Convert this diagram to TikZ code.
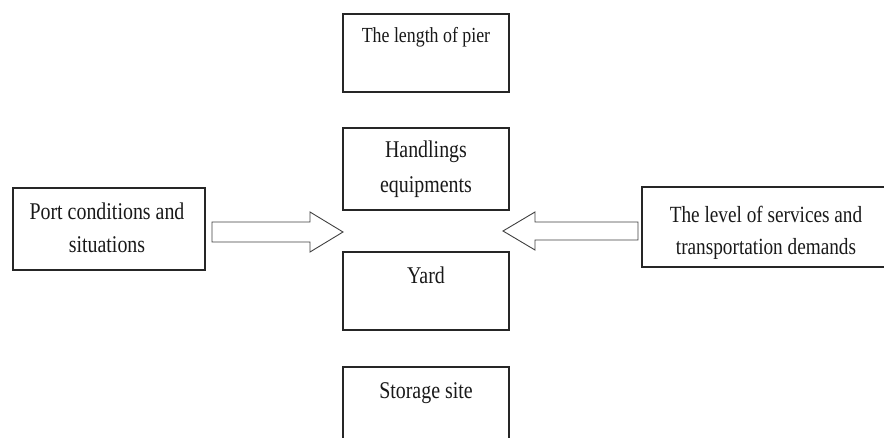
\documentclass[tikz,border=0pt]{standalone}
\usepackage{fontspec}
\setmainfont{Liberation Serif}[FakeStretch=0.83]
\begin{document}
\begin{tikzpicture}[x=1pt,y=-1pt,
  box/.style={draw=black!85, line width=1.1pt, fill=none},
  lbl/.style={anchor=base, inner sep=0pt, font=\fontsize{24}{33}\selectfont, text=black!90},
  fatarrow/.style={draw=black!75, line width=0.9pt, fill=white, line join=miter}]
\useasboundingbox (0,0) rectangle (884,438);
\clip (0,0) rectangle (884,438);
% central column boxes
\draw[box] (343,14) rectangle (509,92);
\node[lbl, font=\fontsize{21.5}{30}\selectfont] (pier) at (426,43) {The length of pier};
\draw[box] (343,128) rectangle (509,210);
\node[lbl] (hand1) at (426,158) {Handlings};
\node[lbl] (hand2) at (426,193) {equipments};
\draw[box] (343,252) rectangle (509,330);
\node[lbl] (yard) at (426,284) {Yard};
\draw[box] (343,367) rectangle (509,460);
\node[lbl] (stor) at (426,399) {Storage site};
% left box
\draw[box] (13,188) rectangle (205,270);
\node[lbl] (port1) at (107,220) {Port conditions and};
\node[lbl] (port2) at (107,253) {situations};
% right box
\draw[box] (642,187) rectangle (892,267);
\node[lbl, font=\fontsize{23.2}{32}\selectfont] (lev1) at (766,223) {The level of services and};
\node[lbl, font=\fontsize{23.2}{32}\selectfont] (lev2) at (766,255) {transportation demands};
% left block arrow
\coordinate (la1) at (212,222);
\coordinate (la2) at (310,222);
\coordinate (la3) at (310,212);
\coordinate (latip) at (343,232);
\coordinate (la5) at (310,252);
\coordinate (la6) at (310,242);
\coordinate (la7) at (212,242);
\draw[fatarrow] (la1) -- (la2) -- (la3) -- (latip) -- (la5) -- (la6) -- (la7) -- cycle;
% right block arrow
\coordinate (ra1) at (638,222);
\coordinate (ra2) at (535,222);
\coordinate (ra3) at (535,212);
\coordinate (ratip) at (503,231);
\coordinate (ra5) at (535,250);
\coordinate (ra6) at (535,240);
\coordinate (ra7) at (638,240);
\draw[fatarrow] (ra1) -- (ra2) -- (ra3) -- (ratip) -- (ra5) -- (ra6) -- (ra7) -- cycle;
\end{tikzpicture}
\end{document}
